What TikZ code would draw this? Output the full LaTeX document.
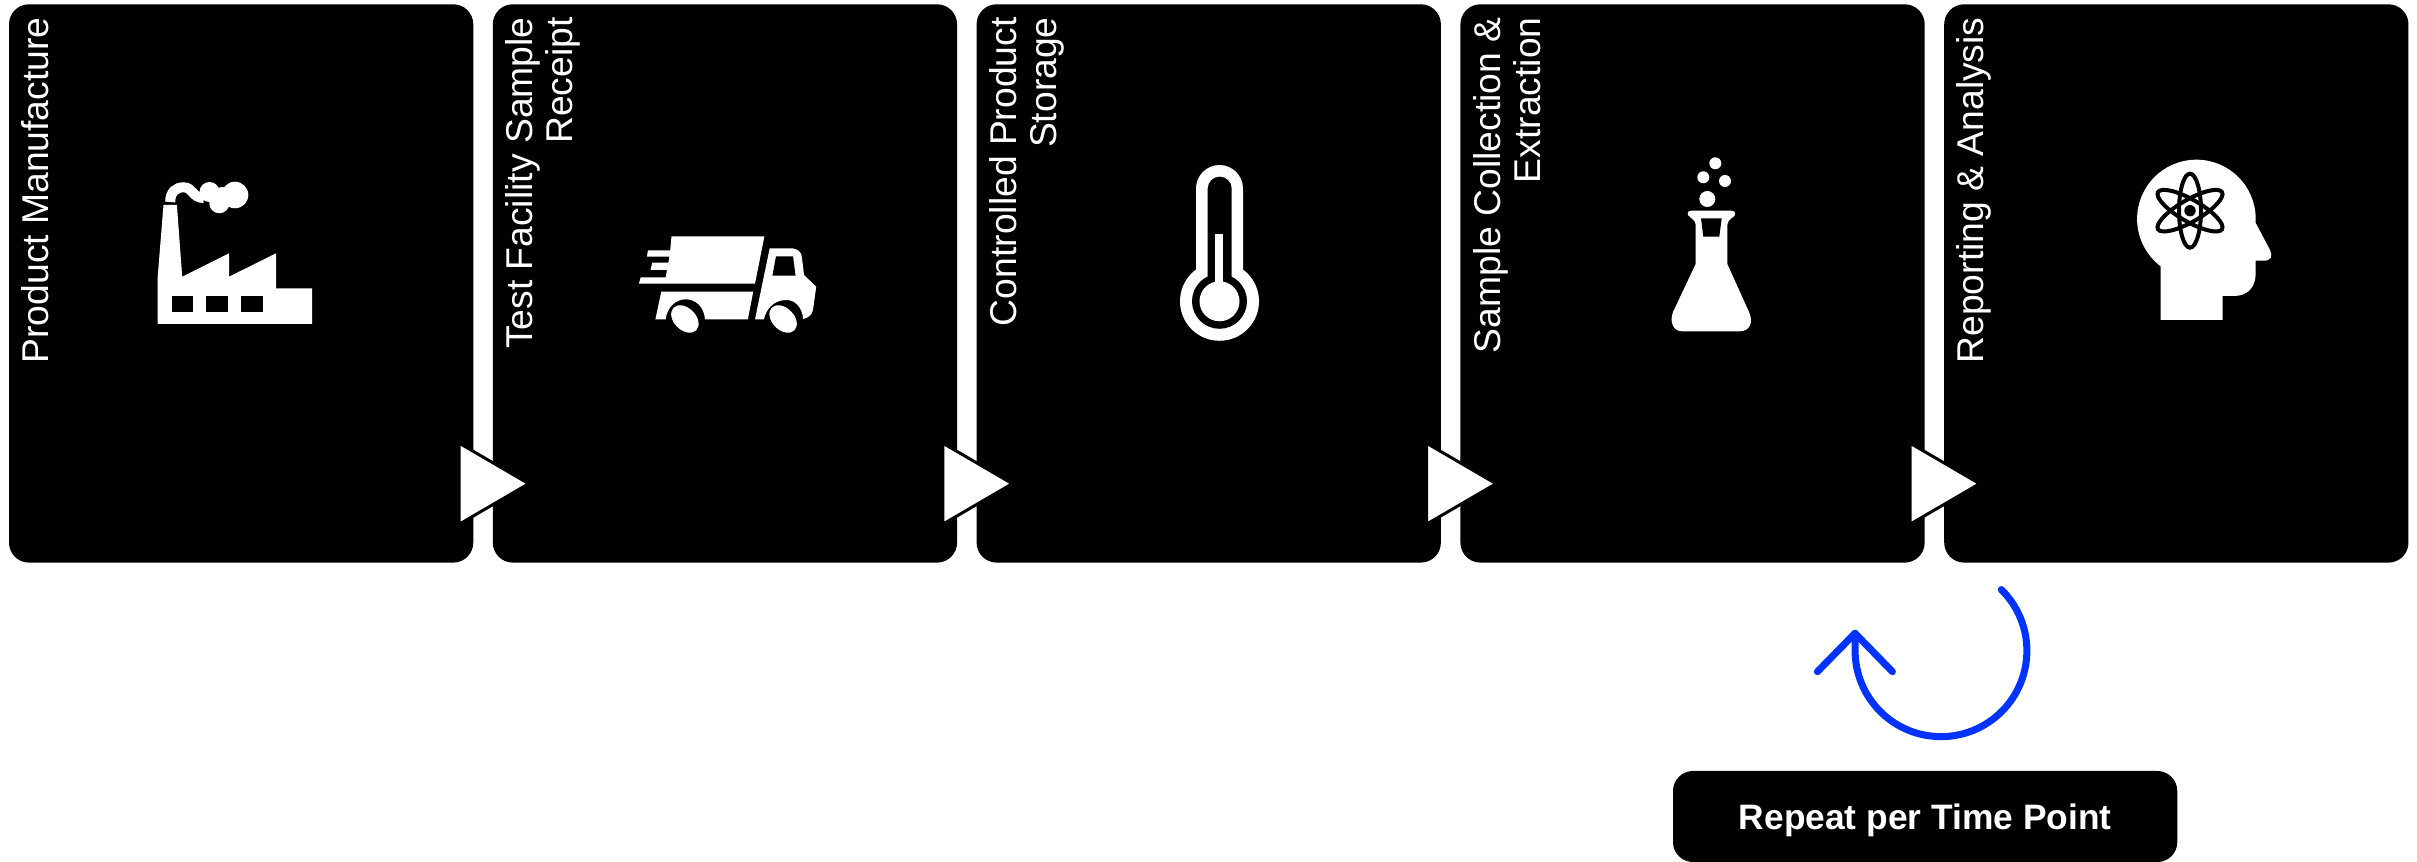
\documentclass[tikz,border=0pt]{standalone}
\usepackage{fontspec}
\setmainfont{Liberation Sans}
\usetikzlibrary{shapes.geometric}
\definecolor{loopblue}{RGB}{0,51,255}
\tikzstyle{stepbox} = [draw=none, fill=black, rounded corners=0.2cm, inner sep=0, outer sep=0, anchor=north west, minimum width=4.64cm, minimum height=5.58cm]
\tikzstyle{steplabel} = [text=white, inner sep=0, rotate=90, anchor=north east, align=right, font=\fontsize{10.6}{11.4}\selectfont]
\tikzstyle{steparrow} = [isosceles triangle, isosceles triangle apex angle=60, isosceles triangle stretches, draw=black, line width=0.85pt, fill=white, inner sep=0, outer sep=0, anchor=lower side, minimum height=0.695cm, minimum width=0.81cm]
\tikzstyle{icon} = [fill=white, draw=none]
\tikzstyle{iconhole} = [fill=black, draw=none]
\tikzstyle{loopline} = [loopblue, line width=2pt, line cap=round, line join=round]

\begin{document}
\begin{tikzpicture}[x=0.01cm, y=-0.01cm]
        % Bounding box
        \useasboundingbox (0,0) rectangle (2417,862);

        % Boxes
        \node[stepbox] (manufacture) at (9,4.3)      {};
        \node[stepbox] (receipt)     at (492.8,4.3)  {};
        \node[stepbox] (storage)     at (976.6,4.3)  {};
        \node[stepbox] (extraction)  at (1460.4,4.3) {};
        \node[stepbox] (reporting)   at (1944.2,4.3) {};
        \node[stepbox, minimum width=5.04cm, minimum height=0.91cm] (repeat) at (1673,771) {};

        % Labels
        \node[steplabel] (manufacturetext) at (21,16.7)     {Product Manufacture};
        \node[steplabel] (receipttext)     at (504.8,16.7)  {Test Facility Sample\\Receipt};
        \node[steplabel] (storagetext)     at (988.6,16.7)  {Controlled Product\\Storage};
        \node[steplabel] (extractiontext)  at (1472.4,16.7) {Sample Collection \&\\Extraction};
        \node[steplabel] (reportingtext)   at (1956.2,16.7) {Reporting \& Analysis};
        \node[text=white, inner sep=0, font=\fontsize{10.05}{12}\selectfont\bfseries] (repeattext) at ([yshift=-0.04cm]repeat.center) {Repeat per Time Point};

        % Triangles between boxes
        \node[steparrow] (arrowa) at (459.2,483.7)  {};
        \node[steparrow] (arrowb) at (942.8,483.7)  {};
        \node[steparrow] (arrowc) at (1426.5,483.7) {};
        \node[steparrow] (arrowd) at (1910.1,483.7) {};

        % Factory
        \fill[icon] (157.7,324) -- (312.1,324) -- (312.1,288.3) -- (276,288.3) -- (276,253.3) -- (229.1,276.7) -- (229.1,253.3) -- (182.2,276.7) -- (176.9,205) -- (163.5,205) -- (157.7,276.7) -- cycle;
        \fill[iconhole] (171.5,296) rectangle (192.9,312);
        \fill[iconhole] (206.3,296) rectangle (227.8,312);
        \fill[iconhole] (241.2,296) rectangle (262.6,312);
        \draw[white, line width=2.85pt] (170.2,202) .. controls (170.2,192) and (176,187.3) .. (183.6,187.3) .. controls (193,187.3) and (192,198) .. (204,198);
        \fill[icon] (209.5,192) circle (10);
        \fill[icon] (235,195) circle (13.3);
        \fill[icon] (219.3,203.3) circle (10);
        \fill[icon] (222,196) circle (9);

        % Truck
        \fill[icon] (671.5,236.3) -- (764.4,236.3) -- (755,283.7) -- (638.9,283.7) -- (640.7,277.3) -- (665.7,277.3) -- (667,270) -- (650.5,270) -- (652.3,262.7) -- (668.4,262.7) -- (669.3,256.7) -- (647,256.7) -- (647.9,250.3) -- (670.2,250.3) -- cycle;
        \fill[icon] (661.3,291.7) -- (753.2,291.7) -- (747.9,319.3) -- (705,319.3) .. controls (704,306) and (695,299.3) .. (685.8,299.3) .. controls (675,299.3) and (667,308) .. (665.7,319.3) -- (655.4,319.3) -- cycle;
        \fill[icon] (684.9,319) ellipse[x radius=16, y radius=11, rotate=-45];
        \fill[icon] (769.7,248.3) -- (790,248.3) .. controls (798,248.3) and (801.7,252) .. (802,258) -- (804,275) -- (816.2,286.7) -- (813,310) .. controls (812,315) and (808,318) .. (803.2,319) .. controls (802,307) and (795,300) .. (786.3,300) .. controls (774,300) and (766,309) .. (763.9,319.3) -- (755,319.3) -- cycle;
        \fill[iconhole] (776,256.3) -- (793,256.3) -- (795.6,275.7) -- (772.4,275.7) -- cycle;
        \fill[icon] (783.1,319) ellipse[x radius=16, y radius=11, rotate=-45];

        % Thermometer
        \fill[icon] (1219.5,301.3) circle (39.5);
        \fill[icon, rounded corners=0.236cm] (1196,165) rectangle (1243,300);
        \fill[iconhole] (1219.5,301.3) circle (27.5);
        \fill[iconhole, rounded corners=0.12cm] (1207.7,176.7) rectangle (1231.7,300);
        \fill[icon] (1219.5,301.3) circle (20);
        \fill[icon] (1215.3,234) rectangle (1223.3,300);

        % Flask
        \fill[icon] (1691,210.7) -- (1731,210.7) .. controls (1736,210.7) and (1736.5,215) .. (1733,217) .. controls (1729,220) and (1727.3,222) .. (1727.3,226) -- (1727.3,264) -- (1749,312) .. controls (1754,323) and (1749,331.3) .. (1740,331.3) -- (1682,331.3) .. controls (1674,331.3) and (1669,323) .. (1673,312) -- (1695.7,264) -- (1695.7,226) .. controls (1695.7,222) and (1694,220) .. (1690,217) .. controls (1686.5,215) and (1687,210.7) .. (1691,210.7) -- cycle;
        \fill[iconhole] (1701,218.3) -- (1721.7,218.3) -- (1719.3,236.7) -- (1703.3,236.7) -- cycle;
        \fill[icon] (1715.3,163.3) circle (6);
        \fill[icon] (1703.3,177.3) circle (6);
        \fill[icon] (1725,181) circle (6);
        \fill[icon] (1707.3,199) circle (8);

        % Head
        \fill[icon] (2196.4,219) circle (59.3);
        \fill[icon] (2160.7,320) -- (2222.7,320) -- (2222.7,296) -- (2234,296) .. controls (2248,296) and (2255.7,287) .. (2255.7,273) -- (2255.7,260.7) -- (2264,260.7) .. controls (2271,260.7) and (2273,256) .. (2270,250) -- (2255.7,223) -- (2220,219) -- (2160.7,240) -- cycle;
        \draw[black, line width=1.14pt] (2190,210.7) ellipse[x radius=37, y radius=11, rotate=90];
        \draw[black, line width=1.14pt] (2190,210.7) ellipse[x radius=37, y radius=11, rotate=30];
        \draw[black, line width=1.14pt] (2190,210.7) ellipse[x radius=37, y radius=11, rotate=-30];
        \fill[iconhole] (2190,210.7) circle (5.7);

        % Repeat loop
        \coordinate (loopstart) at (2001.3,589.6);
        \coordinate (looptip)   at (1855,633.3);
        \coordinate (loopleft)  at (1817.4,671.7);
        \coordinate (loopright) at (1892.4,671.7);
        \draw[loopline] (loopstart) arc[start angle=-45.4, end angle=180, radius=85.9] -- (looptip);
        \draw[loopline] (loopleft) -- (looptip) -- (loopright);

    \end{tikzpicture}
\end{document}
